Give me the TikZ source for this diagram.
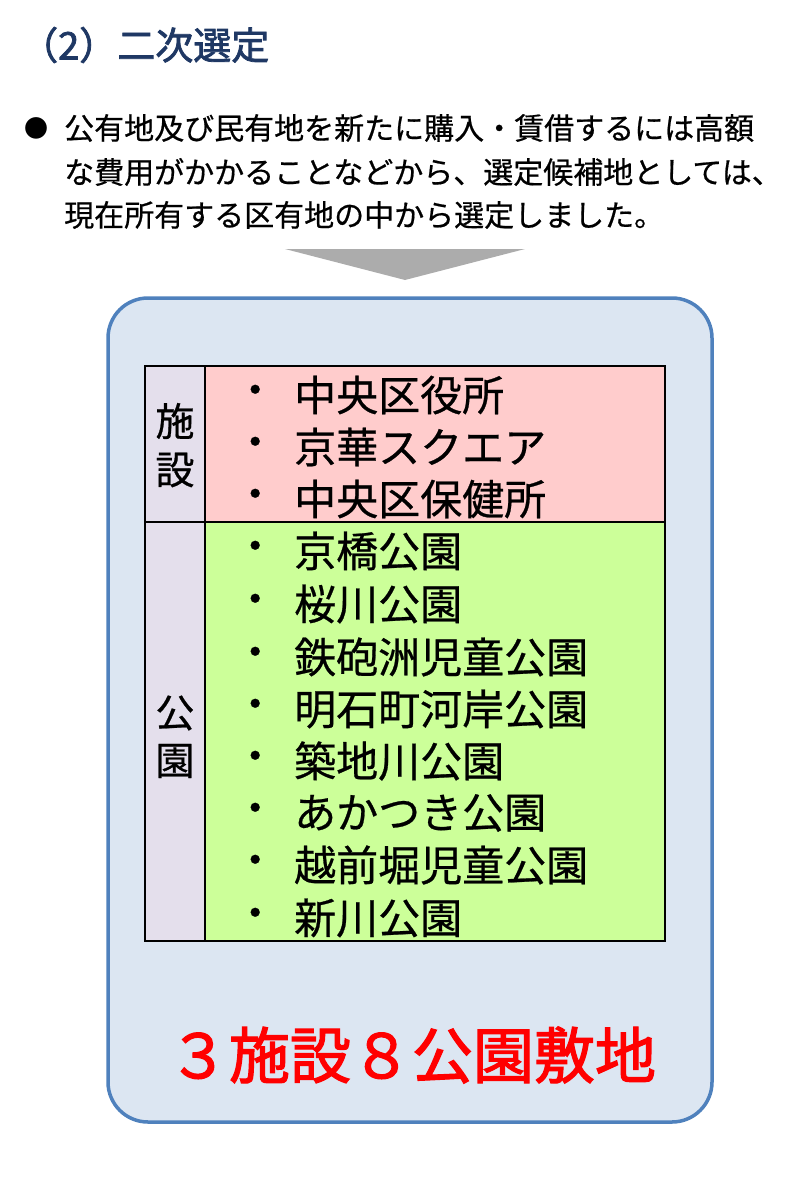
\documentclass[tikz,border=0pt]{standalone}
\usepackage{fontspec}
\setmainfont{Noto Sans CJK JP}
\newfontfamily\jpb{Noto Sans CJK JP}[FakeBold=2]
\newfontfamily\jpm{Noto Sans CJK JP}[FakeBold=0.6]
\begin{document}
\begin{tikzpicture}[x=1pt,y=-1pt,
  body/.style={anchor=west,inner sep=0,font=\jpm\fontsize{30}{30}\selectfont},
  item/.style={anchor=west,inner sep=0,font=\jpm\fontsize{42}{42}\selectfont},
  lab/.style={inner sep=0,font=\jpm\fontsize{39}{39}\selectfont},
  cell/.style={draw=black,line width=1.2pt}]
\definecolor{ttl}{HTML}{1F3864}
\definecolor{boxfill}{RGB}{220,230,242}
\definecolor{bordc}{HTML}{4F81BD}
\definecolor{lav}{RGB}{228,223,236}
\definecolor{pnk}{RGB}{255,204,204}
\definecolor{grn}{RGB}{204,255,153}
\useasboundingbox (0,0) rectangle (810,1188);
\node[anchor=west,inner sep=0,text=ttl,font=\jpb\fontsize{38}{38}\selectfont] (title) at (20,45) {（2）二次選定};
\node[anchor=center,inner sep=0,font=\fontsize{24}{24}\selectfont] (bul) at (36,128) {●};
\node[body] (l1) at (64,128) {公有地及び民有地を新たに購入・賃借するには高額};
\node[body] (l2) at (64,172) {な費用がかかることなどから、選定候補地としては、};
\node[body] (l3) at (64,215) {現在所有する区有地の中から選定しました。};
\fill[gray!65] (285,249) -- (525,249) -- (405,280) -- cycle;
\draw[bordc,fill=boxfill,line width=3.5pt,rounded corners=40] (108,298) rectangle (712,1122);
\fill[lav] (145,366) rectangle (205,941);
\fill[pnk] (205,366) rectangle (665,522);
\fill[grn] (205,522) rectangle (665,941);
\draw[cell] (145,366) rectangle (665,941);
\draw[cell] (205,366) -- (205,941);
\draw[cell] (145,522) -- (665,522);
\node[lab] (s1) at (175,421) {施};
\node[lab] (s2) at (175,470) {設};
\node[lab] (p1) at (175,713) {公};
\node[lab] (p2) at (175,761) {園};
\foreach \y/\t [count=\i] in {395/中央区役所,447/京華スクエア,499/中央区保健所,551/京橋公園,604/桜川公園,657/鉄砲洲児童公園,709/明石町河岸公園,761/築地川公園,813/あかつき公園,865/越前堀児童公園,918/新川公園}{
  \node[item] (d\i) at (234,\y) {・};
  \node[item] (t\i) at (294,\y) {\t};
}
\node[inner sep=0,text=red,font=\jpb\fontsize{61}{61}\selectfont] (sum) at (412,1055) {３施設８公園敷地};
\end{tikzpicture}
\end{document}
